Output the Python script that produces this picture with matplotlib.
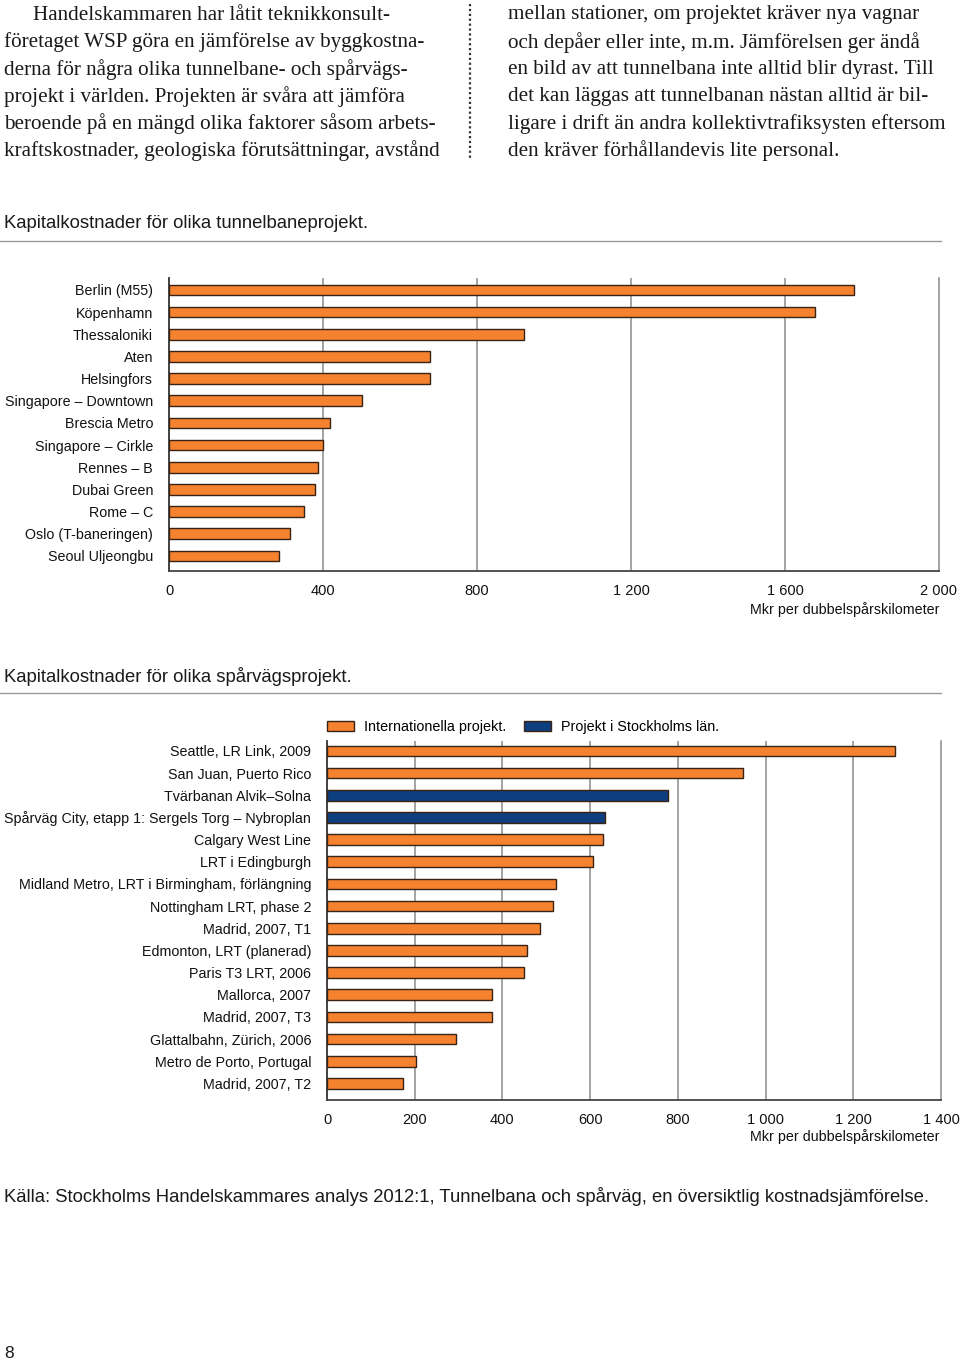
import matplotlib
matplotlib.use("Agg")
from matplotlib import pyplot as plt
from matplotlib.patches import Patch
from matplotlib.lines import Line2D
from matplotlib.ticker import FuncFormatter
import numpy as np

# data
metro_names = ['Berlin (M55)', 'Köpenhamn', 'Thessaloniki', 'Aten', 'Helsingfors',
               'Singapore – Downtown', 'Brescia Metro', 'Singapore – Cirkle', 'Rennes – B',
               'Dubai Green', 'Rome – C', 'Oslo (T-baneringen)', 'Seoul Uljeongbu']
metro_cost = [1779, 1678, 922, 678, 678, 501, 417, 400, 388, 380, 350, 313, 286]
metro_ticks = [0, 400, 800, 1200, 1600, 2000]

tram_names = ['Seattle, LR Link, 2009', 'San Juan, Puerto Rico', 'Tvärbanan Alvik–Solna',
              'Spårväg City, etapp 1: Sergels Torg – Nybroplan', 'Calgary West Line',
              'LRT i Edingburgh', 'Midland Metro, LRT i Birmingham, förlängning',
              'Nottingham LRT, phase 2', 'Madrid, 2007, T1', 'Edmonton, LRT (planerad)',
              'Paris T3 LRT, 2006', 'Mallorca, 2007', 'Madrid, 2007, T3',
              'Glattalbahn, Zürich, 2006', 'Metro de Porto, Portugal', 'Madrid, 2007, T2']
tram_cost = [1296, 948, 777, 634, 630, 607, 522, 516, 486, 457, 450, 377, 376, 295, 204, 174]
tram_stockholm = [False, False, True, True, False, False, False, False, False, False,
                  False, False, False, False, False, False]
tram_ticks = [0, 200, 400, 600, 800, 1000, 1200, 1400]

left_text = ['Handelskammaren har låtit teknikkonsult-',
             'företaget WSP göra en jämförelse av byggkostna-',
             'derna för några olika tunnelbane- och spårvägs-',
             'projekt i världen. Projekten är svåra att jämföra',
             'beroende på en mängd olika faktorer såsom arbets-',
             'kraftskostnader, geologiska förutsättningar, avstånd']
right_text = ['mellan stationer, om projektet kräver nya vagnar',
              'och depåer eller inte, m.m. Jämförelsen ger ändå',
              'en bild av att tunnelbana inte alltid blir dyrast. Till',
              'det kan läggas att tunnelbanan nästan alltid är bil-',
              'ligare i drift än andra kollektivtrafiksysten eftersom',
              'den kräver förhållandevis lite personal.']

W, H = 960, 1361
ORANGE = '#f5822f'
BLUE = '#0d3f7f'
EDGE = '#3b2314'
GRID = '#8a8a8a'
SANS = 'Liberation Sans'
SERIF = 'Liberation Serif'

plt.rcParams['font.family'] = SANS

fig = plt.figure(figsize=(W / 100, H / 100), dpi=100)


def fx(x):
    return x / W


def fy(y):
    return 1 - y / H


def thousands(v, pos):
    return '{:,.0f}'.format(v).replace(',', ' ')


# intro text in two columns
for i, line in enumerate(left_text):
    x = 33 if i == 0 else 4
    fig.text(fx(x), fy(15 + i * 27.2), line, fontsize=15.2, family=SERIF,
             va='center', ha='left', color='#1a1a1a')
for i, line in enumerate(right_text):
    fig.text(fx(508), fy(15 + i * 27.2), line, fontsize=15.2, family=SERIF,
             va='center', ha='left', color='#1a1a1a')
fig.add_artist(Line2D([fx(470), fx(470)], [fy(4), fy(158)], transform=fig.transFigure,
                      color='#333333', lw=1.6, linestyle=(0, (1, 1.2))))


def section(title, ty, ly):
    fig.text(fx(4), fy(ty), title, fontsize=13.3, va='center', ha='left', color='#1a1a1a')
    fig.add_artist(Line2D([0, fx(941)], [fy(ly), fy(ly)], transform=fig.transFigure,
                          color='#9a9a9a', lw=1))


def bar_chart(rect, names, values, colors, ticks, top_pad, bot_pad):
    ax = fig.add_axes(rect)
    pos = np.arange(len(names))
    ax.barh(pos, values, height=0.48, color=colors, edgecolor=EDGE, linewidth=1, zorder=3)
    ax.set_ylim(len(names) - 1 + bot_pad, -top_pad)
    ax.set_xlim(ticks[0], ticks[-1])
    ax.set_xticks(ticks)
    ax.xaxis.set_major_formatter(FuncFormatter(thousands))
    ax.set_yticks(pos)
    ax.set_yticklabels(names)
    for t in ticks[1:-1]:
        ax.axvline(t, color=GRID, lw=1.1, zorder=1)
    ax.spines['top'].set_visible(False)
    ax.spines['right'].set_color(GRID)
    ax.spines['right'].set_linewidth(1.1)
    ax.spines['left'].set_color('#333333')
    ax.spines['left'].set_linewidth(1.3)
    ax.spines['bottom'].set_color('#444444')
    ax.spines['bottom'].set_linewidth(1.3)
    ax.tick_params(axis='y', length=0, pad=11.5, labelsize=10.3, labelcolor='#111111')
    ax.tick_params(axis='x', length=0, pad=9, labelsize=10.5, labelcolor='#111111')
    return ax


# chart 1: tunnelbana
section('Kapitalkostnader för olika tunnelbaneprojekt.', 224, 241)
ax1 = bar_chart([fx(169), fy(571), fx(939) - fx(169), fy(278) - fy(571)],
                metro_names, metro_cost, [ORANGE] * len(metro_cost), metro_ticks, 0.54, 0.68)
fig.text(fx(940), fy(610), 'Mkr per dubbelspårskilometer', fontsize=10.3,
         ha='right', va='center', color='#111111')

# chart 2: spårväg
section('Kapitalkostnader för olika spårvägsprojekt.', 677, 693)
tram_colors = [BLUE if s else ORANGE for s in tram_stockholm]
ax2 = bar_chart([fx(327), fy(1100), fx(941) - fx(327), fy(741) - fy(1100)],
                tram_names, tram_cost, tram_colors, tram_ticks, 0.45, 0.75)
fig.text(fx(940), fy(1137), 'Mkr per dubbelspårskilometer', fontsize=10.3,
         ha='right', va='center', color='#111111')

handles = [Patch(facecolor=ORANGE, edgecolor=EDGE, linewidth=1, label='Internationella projekt.'),
           Patch(facecolor=BLUE, edgecolor=EDGE, linewidth=1, label='Projekt i Stockholms län.')]
fig.legend(handles=handles, loc='center left', bbox_to_anchor=(fx(327), fy(727)),
           bbox_transform=fig.transFigure, ncol=2, frameon=False, fontsize=10.4,
           handlelength=1.85, handleheight=0.75, handletextpad=0.7, columnspacing=1.25,
           borderpad=0, borderaxespad=0)

# source + page number
fig.text(fx(4), fy(1196), 'Källa: Stockholms Handelskammares analys 2012:1, Tunnelbana och '
         'spårväg, en översiktlig kostnadsjämförelse.', fontsize=13.3, ha='left',
         va='center', color='#1a1a1a')
fig.text(fx(4), fy(1354), '8', fontsize=12.5, ha='left', va='center', color='#1a1a1a')

fig.savefig('out.png', dpi=100)
